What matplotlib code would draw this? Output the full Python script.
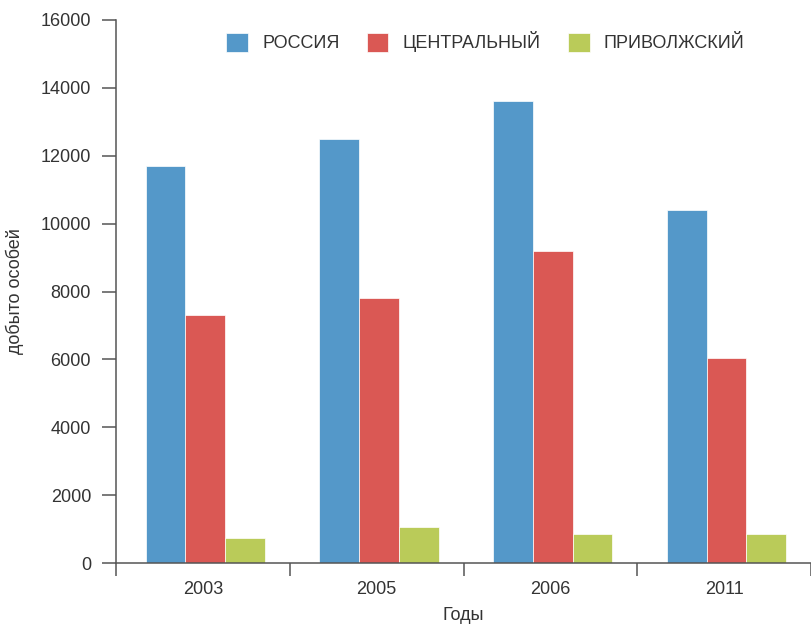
import matplotlib.pyplot as plt
import numpy as np

plt.rcParams['font.family'] = ['Liberation Sans', 'DejaVu Sans']

years = ['2003', '2005', '2006', '2011']
russia = [11700, 12500, 13600, 10400]
central = [7300, 7800, 9200, 6050]
privolzh = [750, 1050, 850, 850]
series_names = ['РОССИЯ', 'ЦЕНТРАЛЬНЫЙ', 'ПРИВОЛЖСКИЙ']
colors = ['#5498c9', '#da5854', '#bacb59']
text_col = '#333333'
axis_col = '#555555'

fig = plt.figure(figsize=(8.11, 6.26), dpi=100)
ax = fig.add_axes([116 / 811, 1 - 563 / 626, 695 / 811, 543 / 626])

x = np.arange(len(years))
w = 0.2286
shift = 0.014
for k, (vals, name, c) in enumerate(zip([russia, central, privolzh], series_names, colors)):
    ax.bar(x + shift + (k - 1) * w, vals, width=w, color=c, edgecolor='white',
           linewidth=0.5, label=name)

ax.set_xlim(-0.5, 3.46)
ax.set_ylim(0, 16000)
ax.set_yticks(range(0, 16001, 2000))
ax.set_xticks(x)
ax.set_xticklabels(years)
ax.set_xticks(np.arange(-0.5, 3.6, 1.0), minor=True)
ax.tick_params(axis='x', which='major', length=0, pad=13, labelsize=13, labelcolor=text_col)
ax.tick_params(axis='x', which='minor', length=9, width=1.1, color=axis_col, direction='out')
ax.tick_params(axis='y', length=10, width=1.1, color=axis_col, pad=8, labelsize=13,
               labelcolor=text_col)

for s in ['top', 'right']:
    ax.spines[s].set_visible(False)
for s in ['left', 'bottom']:
    ax.spines[s].set_color(axis_col)
    ax.spines[s].set_linewidth(1.1)

ax.set_ylabel('добыто особей', fontsize=13, color=text_col)
ax.yaxis.set_label_coords(-0.132, 0.5)
ax.set_xlabel('Годы', fontsize=13, color=text_col)
ax.xaxis.set_label_coords(0.5, -0.081)

ax.legend(loc='upper left', bbox_to_anchor=(0.135, 1.009), ncol=3, frameon=False,
          fontsize=13, handlelength=1.2, handleheight=1.2, handletextpad=0.8,
          columnspacing=1.5, labelcolor=text_col)

fig.savefig('out.png', dpi=100)
